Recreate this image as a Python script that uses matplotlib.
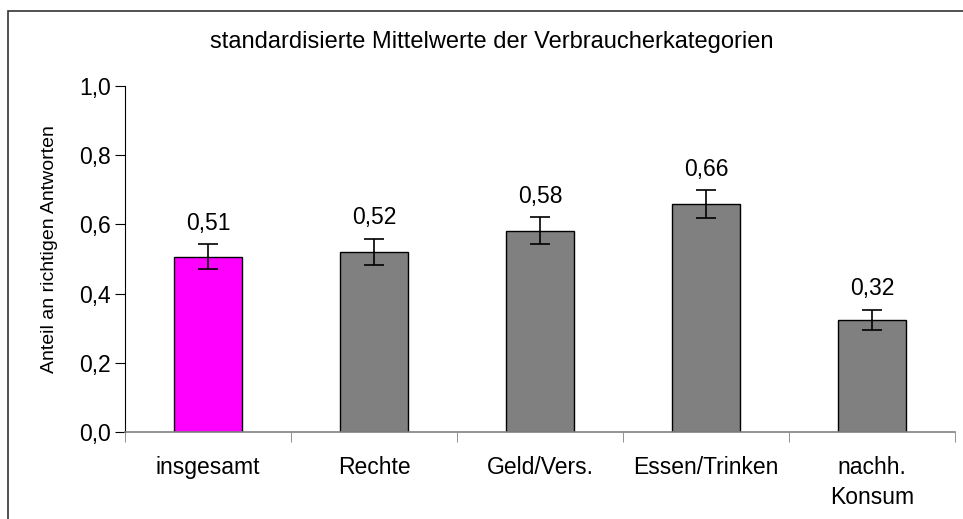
import matplotlib
matplotlib.use("Agg")
import matplotlib.pyplot as plt
from matplotlib.patches import Rectangle
from matplotlib.ticker import FixedLocator

categories = ["insgesamt", "Rechte", "Geld/Vers.", "Essen/Trinken", "nachh.\nKonsum"]
values = [0.506, 0.520, 0.582, 0.658, 0.324]
errors = [0.036, 0.037, 0.038, 0.040, 0.029]
labels = ["0,51", "0,52", "0,58", "0,66", "0,32"]
colors = ["#FF00FF", "#808080", "#808080", "#808080", "#808080"]
yticks = [0.0, 0.2, 0.4, 0.6, 0.8, 1.0]
yticklabels = ["0,0", "0,2", "0,4", "0,6", "0,8", "1,0"]

plt.rcParams['font.family'] = ['Liberation Sans', 'DejaVu Sans']

W, H = 963, 519
fig = plt.figure(figsize=(W / 100, H / 100), dpi=100)

# outer frame (clipped at right/bottom like the reference)
fig.patches.append(Rectangle((8 / W, -0.1), 1.2, 1 - 11 / H + 0.1,
                             transform=fig.transFigure, fill=False,
                             edgecolor="#333333", linewidth=1.2))

ax = fig.add_axes([125 / W, 1 - 432 / H, (955 - 125) / W, (432 - 86) / H])
x = list(range(len(categories)))
ax.bar(x, values, width=0.41, color=colors, edgecolor="black", linewidth=1.0, zorder=2)
ax.errorbar(x, values, yerr=errors, fmt="none", ecolor="black", elinewidth=1.2,
            capsize=7, capthick=1.2, zorder=3)
for xi, v, e, lab in zip(x, values, errors, labels):
    ax.text(xi, v + e + 0.062, lab, ha="center", va="center", fontsize=16.5)

ax.set_xlim(-0.5, len(categories) - 0.5)
ax.set_ylim(0, 1.0)
ax.set_yticks(yticks)
ax.set_yticklabels(yticklabels, fontsize=16.5)
ax.set_xticks(x)
ax.set_xticklabels(categories, fontsize=16.5, va="top", linespacing=1.4)
ax.tick_params(axis="x", length=0, pad=17)
ax.xaxis.set_minor_locator(FixedLocator([i - 0.5 for i in range(len(categories) + 1)]))
ax.tick_params(axis="x", which="minor", length=7, color="#808080", direction="out")
ax.tick_params(axis="y", length=7, color="black", direction="out", pad=3)

for s in ["top", "right"]:
    ax.spines[s].set_visible(False)
ax.spines["left"].set_color("black")
ax.spines["bottom"].set_color("#808080")
ax.spines["bottom"].set_linewidth(1.2)

ax.set_ylabel("Anteil an richtigen Antworten", fontsize=14)
ax.yaxis.set_label_coords(-0.081, 0.529)
fig.text(492 / W, 1 - 42 / H, "standardisierte Mittelwerte der Verbraucherkategorien",
         ha="center", va="center", fontsize=17)

fig.savefig("out.png", dpi=100)
